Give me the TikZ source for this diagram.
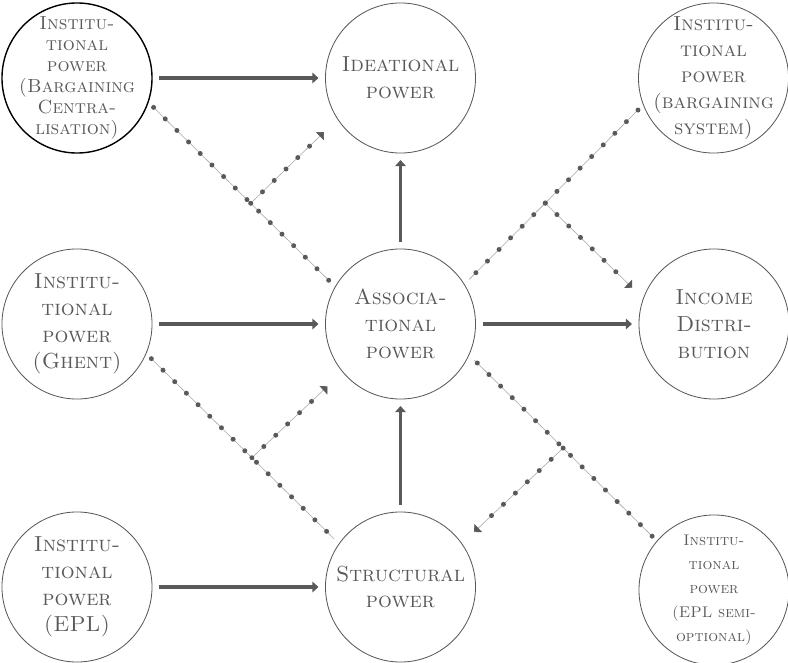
\documentclass[tikz,border=0pt]{standalone}
\usepackage{tikz}
\usetikzlibrary{arrows, arrows.meta, positioning, calc, decorations.markings}
\definecolor{ink}{HTML}{595959}
\definecolor{pale}{HTML}{A6A6A6}
\tikzset{
    power/.style = {circle, draw=ink, line width=0.6pt, minimum size=3.75cm, inner sep=-0.3cm, outer sep=0.175cm, align=center, text=ink, font=\fontsize{15.5}{19}\selectfont\scshape},
    arrow/.style = {draw=ink, line width=0.09cm, -{Triangle[length=0.15cm, width=0.26cm]}},
    dotline/.style = {draw=pale, line width=0.4pt, postaction={decorate}, decoration={markings, mark=between positions 0 and 1 step 0.41cm with {\fill[ink] (0,0) circle (0.062cm);}}},
    dotarrow/.style = {draw=pale, line width=0.4pt, -{Triangle[angle=90:0.2cm, color=ink]}, postaction={decorate}, decoration={markings, mark=between positions 0 and 0.9 step 0.41cm with {\fill[ink] (0,0) circle (0.062cm);}}}
}
\begin{document}
\begin{tikzpicture}[x=0.025cm, y=-0.025cm]
    \useasboundingbox (0,0) rectangle (788,663);
    % Nodos
    \node (n1) [power, draw=black, line width=1pt, font=\fontsize{13.5}{15}\selectfont\scshape] at (77,78) {Institu-\\tional\\power\\(Bargaining\\Centra-\\lisation)};
    \node (n2) [power] at (400.5,78) {Ideational\\power};
    \node (n3) [power, font=\fontsize{14.5}{18.5}\selectfont\scshape] at (713.5,78) {Institu-\\tional\\power\\(bargaining\\system)};
    \node (n4) [power] at (77,324) {Institu-\\tional\\power\\(Ghent)};
    \node (n5) [power] at (400.5,324) {Associa-\\tional\\power};
    \node (n6) [power] at (714,324) {Income\\Distri-\\bution};
    \node (n7) [power] at (77,587) {Institu-\\tional\\power\\(EPL)};
    \node (n8) [power] at (400.5,587) {Structural\\power};
    \node (n9) [power, font=\fontsize{11}{17}\selectfont\scshape] at (714,590) {Institu-\\tional\\power\\(EPL semi-\\optional)};

    %Flechas
    \draw [arrow] (n1) -- (n2);
    \draw [arrow] (n4) -- (n5);
    \draw [arrow] (n7) -- (n8);
    \draw [arrow] (n5) -- (n6);
    \draw [arrow] (n5) -- (n2);
    \draw [arrow] (n8) -- (n5);

    %Moderacion
    \draw [dotline] (n1.-21) -- coordinate[pos=0.55] (m1) (n5.149);
    \draw [dotline] (n3.203) -- coordinate[pos=0.55] (m2) (n5.33);
    \draw [dotline] (n4.-25) -- coordinate[pos=0.55] (m3) (n8.144);
    \draw [dotline] (n9.139) -- coordinate[pos=0.5] (m4) (n5.-26);
    \draw [dotarrow] (m1) -- ($(n2.214)!0.3cm!(m1)$);
    \draw [dotarrow] (m2) -- ($(n6.158)!0.2cm!(m2)$);
    \draw [dotarrow] (m3) -- ($(n5.220)!0.35cm!(m3)$);
    \draw [dotarrow] (m4) -- ($(n8.36)!0.25cm!(m4)$);
\end{tikzpicture}
\end{document}
